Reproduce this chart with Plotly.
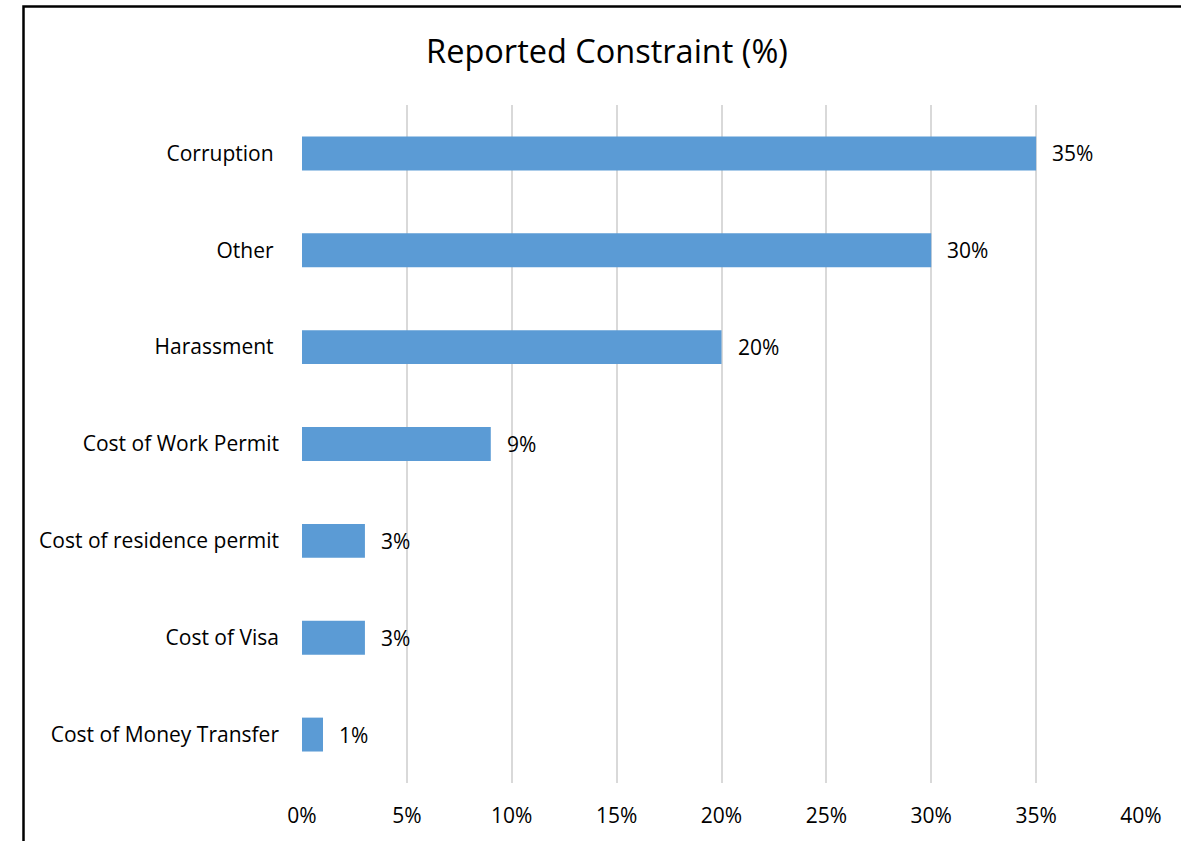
import plotly.graph_objects as go

# Reported constraints, listed top to bottom
categories = [
    "Corruption",
    "Other",
    "Harassment",
    "Cost of Work Permit",
    "Cost of residence permit",
    "Cost of Visa",
    "Cost of Money Transfer",
]
# a few source labels carry a trailing space
category_labels = [
    "Corruption\u00a0",
    "Other\u00a0",
    "Harassment\u00a0",
    "Cost of Work Permit",
    "Cost of residence permit",
    "Cost of Visa",
    "Cost of Money Transfer",
]
values = [35, 30, 20, 9, 3, 3, 1]
tick_values = [0, 5, 10, 15, 20, 25, 30, 35, 40]
tick_labels = [f"{v}%" for v in tick_values]

FONT = "Open Sans"
BAR_COLOR = "#5B9BD5"
LABEL_SIZE = 21

W, H = 1181, 841
ML, MR, MT, MB = 302, 40, 105, 58
pw, ph = W - ML - MR, H - MT - MB

fig = go.Figure(
    go.Bar(
        x=values,
        y=categories,
        orientation="h",
        marker=dict(color=BAR_COLOR, line=dict(width=0)),
        width=0.35,
        hoverinfo="skip",
    )
)

# value labels to the right of each bar
for cat, v in zip(categories, values):
    fig.add_annotation(
        x=v, y=cat, text=f"{v}%", showarrow=False,
        xanchor="left", yanchor="middle", xshift=14,
        font=dict(family=FONT, size=LABEL_SIZE, color="#000000"),
    )

# frame around the chart (left and top edges visible)
def px_to_paper_x(px):
    return (px - ML) / pw

def px_to_paper_y(py):
    return (H - MB - py) / ph

fig.add_shape(
    type="rect", xref="paper", yref="paper",
    x0=px_to_paper_x(23.5), x1=px_to_paper_x(W + 20),
    y0=px_to_paper_y(H + 20), y1=px_to_paper_y(6.5),
    line=dict(color="#000000", width=2.5), fillcolor="rgba(0,0,0,0)",
    layer="above",
)

fig.update_layout(
    width=W, height=H,
    margin=dict(l=ML, r=MR, t=MT, b=MB, pad=0),
    paper_bgcolor="#FFFFFF", plot_bgcolor="#FFFFFF",
    showlegend=False,
    title=dict(
        text="Reported Constraint (%)",
        x=607 / W, xanchor="center",
        y=1 - 52 / H, yanchor="middle",
        font=dict(family=FONT, size=32.5, color="#000000"),
    ),
    xaxis=dict(
        range=[0, 40], tickvals=tick_values, ticktext=tick_labels,
        showgrid=True, gridcolor="#D9D9D9", gridwidth=1.5,
        zeroline=False, showline=False,
        ticks="", ticklabelstandoff=18,
        tickfont=dict(family=FONT, size=LABEL_SIZE, color="#000000"),
        fixedrange=True,
    ),
    yaxis=dict(
        categoryorder="array", categoryarray=categories,
        tickvals=categories, ticktext=category_labels,
        autorange="reversed",
        showgrid=False, zeroline=False, showline=False,
        ticks="", ticklabelstandoff=22,
        tickfont=dict(family=FONT, size=LABEL_SIZE, color="#000000"),
        fixedrange=True,
    ),
)

fig.write_html("out.html")
